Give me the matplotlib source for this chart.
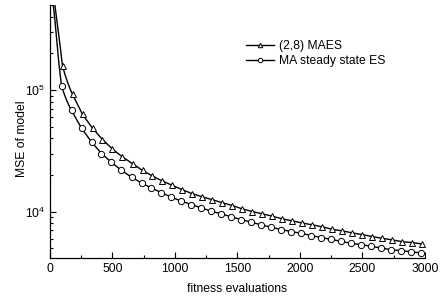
import matplotlib
matplotlib.use("Agg")
import matplotlib.pyplot as plt
from matplotlib.ticker import MultipleLocator, LogLocator, NullFormatter

plt.rcParams['font.family'] = ['Liberation Sans', 'DejaVu Sans']
plt.rcParams['mathtext.fontset'] = 'custom'
plt.rcParams['mathtext.rm'] = 'Liberation Sans'
plt.rcParams['mathtext.it'] = 'Liberation Sans:italic'
plt.rcParams['mathtext.default'] = 'regular'

# (2,8) MAES: marked points
maes_x = [100 + 80 * k for k in range(37)]
maes_y = [158000, 92000, 63000, 48500, 39100, 32700, 28100, 24800, 21800, 19600,
          17800, 16400, 15100, 14000, 13200, 12500, 11800, 11200, 10500, 10000,
          9570, 9150, 8700, 8380, 8040, 7770, 7480, 7140, 6930, 6670,
          6460, 6220, 6020, 5840, 5650, 5550, 5410]
# extra line points (steep start, unmarked)
maes_extra_x = [20, 40, 60, 80, 90, 120, 140, 160]
maes_extra_y = [900000, 490000, 340000, 235000, 192000, 134000, 116000, 102500]

# MA steady state ES: marked points
ss_x = [92 + 80 * k for k in range(37)]
ss_y = [108500, 68000, 48500, 37400, 30000, 25400, 21800, 19200, 17200, 15600,
        14300, 13100, 12200, 11400, 10700, 10060, 9570, 9040, 8590, 8160,
        7770, 7420, 7100, 6840, 6620, 6340, 6100, 5900, 5680, 5470,
        5340, 5170, 5010, 4850, 4760, 4670, 4560]
ss_extra_x = [10, 20, 40, 55, 70, 82, 112, 132, 152]
ss_extra_y = [1000000, 580000, 370000, 250000, 170000, 132000, 93700, 82800, 74400]

labels = ['(2,8) MAES', 'MA steady state ES']

fig = plt.figure(figsize=(4.41, 2.98), dpi=100)
ax = fig.add_axes([50/441, 1-258/298, 375/441, 253/298])

for xs, ys, ex, ey, mk, lab in [
        (maes_x, maes_y, maes_extra_x, maes_extra_y, '^', labels[0]),
        (ss_x, ss_y, ss_extra_x, ss_extra_y, 'o', labels[1])]:
    pts = sorted(zip(list(xs) + list(ex), list(ys) + list(ey)))
    ax.plot([p[0] for p in pts], [p[1] for p in pts], color='black', lw=1.0)
    ax.plot(xs, ys, linestyle='none', marker=mk, markersize=4.5,
            markerfacecolor='white', markeredgecolor='black', markeredgewidth=0.7)
    ax.plot([], [], color='black', lw=1.0, marker=mk, markersize=3.2,
            markerfacecolor='white', markeredgecolor='black', markeredgewidth=0.7, label=lab)

ax.set_yscale('log')
ax.set_xlim(0, 3000)
ax.set_ylim(4150, 5.0e5)
ax.xaxis.set_major_locator(MultipleLocator(500))
ax.xaxis.set_minor_locator(MultipleLocator(250))
ax.yaxis.set_major_locator(LogLocator(base=10, numticks=10))
ax.yaxis.set_minor_locator(LogLocator(base=10, subs=range(2, 10), numticks=20))
ax.yaxis.set_minor_formatter(NullFormatter())

for s in ['top', 'right']:
    ax.spines[s].set_visible(False)
for s in ['left', 'bottom']:
    ax.spines[s].set_linewidth(0.9)

ax.tick_params(which='both', direction='in', labelsize=8.7, width=0.8)
ax.tick_params(which='major', length=4)
ax.tick_params(which='minor', length=2.5)

ax.set_xlabel('fitness evaluations', fontsize=8.7, labelpad=5.5)
ax.set_ylabel('MSE of model', fontsize=8.7, labelpad=1)
ax.yaxis.set_label_coords(-0.058, 0.47)

ax.legend(loc='upper left', bbox_to_anchor=(0.524, 0.862), frameon=False,
          fontsize=8.7, handlelength=2.3, handletextpad=0.4,
          labelspacing=0.25, borderpad=0, borderaxespad=0)

fig.savefig('out.png', dpi=100)
